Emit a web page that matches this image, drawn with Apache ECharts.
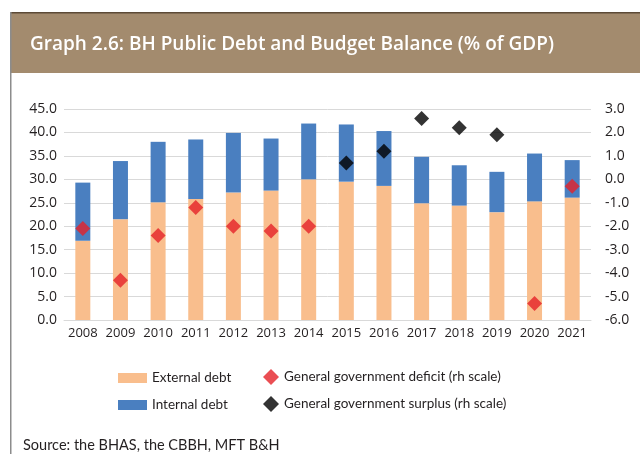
<!DOCTYPE html>
<html><head><meta charset="utf-8">
<script src="https://cdn.jsdelivr.net/npm/echarts@6/dist/echarts.min.js"></script>
<style>html,body{margin:0;padding:0;background:#fff}#c{width:640px;height:454px}</style>
</head><body><div id="c"></div>
<script>
const years = ['2008','2009','2010','2011','2012','2013','2014','2015','2016','2017','2018','2019','2020','2021'];
const externalDebt = [16.9,21.5,25.1,25.8,27.2,27.6,30.0,29.5,28.6,24.9,24.4,23.0,25.3,26.1];
const internalDebt = [12.4,12.4,12.9,12.7,12.7,11.1,11.9,12.2,11.7,9.9,8.6,8.6,10.2,8.0];
const deficit = [-2.1,-4.3,-2.4,-1.2,-2.0,-2.2,-2.0,null,null,null,null,null,-5.3,-0.3];
const surplus = [null,null,null,null,null,null,null,0.7,1.2,2.6,2.2,1.9,null,null];

const FONT = '"Open Sans", "Noto Sans", sans-serif';
const NARROW = 'Lato, sans-serif';
const TXT = '#231f20';
const chart = echarts.init(document.getElementById('c'), null, {renderer:'canvas'});
const legendBase = {orient:'horizontal', textStyle:{fontFamily:NARROW,fontSize:13.5,color:TXT}, itemGap:0, selectedMode:false};
chart.setOption({
  animation:false,
  backgroundColor:'#fff',
  graphic:[
    {type:'rect', shape:{x:11,y:13,width:629,height:60}, style:{fill:'#a38b6e'}, z:0},
    {type:'rect', shape:{x:11,y:12,width:629,height:1.5}, style:{fill:'#5c4a36'}, z:1},
    {type:'rect', shape:{x:10,y:12,width:1.5,height:442}, style:{fill:'#8c8c8c'}, z:1},
    {type:'text', left:23, top:438, style:{text:'Source: the BHAS, the CBBH, MFT B&H', fontFamily:NARROW, fontSize:14.5, fill:TXT}}
  ],
  title:{text:'Graph 2.6: BH Public Debt and Budget Balance (% of GDP)', left:25, top:30,
    textStyle:{color:'#fff', fontFamily:FONT, fontSize:19, fontWeight:600}},
  legend:[
    Object.assign({}, legendBase, {left:113, top:366, itemWidth:29, itemHeight:10, data:[{name:'External debt', icon:'rect'}]}),
    Object.assign({}, legendBase, {left:113, top:393, itemWidth:29, itemHeight:10, data:[{name:'Internal debt', icon:'rect'}]}),
    Object.assign({}, legendBase, {left:258, top:364, itemWidth:16, itemHeight:16, data:[{name:'General government deficit (rh scale)', icon:'diamond'}]}),
    Object.assign({}, legendBase, {left:258, top:391, itemWidth:16, itemHeight:16, data:[{name:'General government surplus (rh scale)', icon:'diamond'}]})
  ],
  grid:{left:64, right:49, top:109, bottom:134, containLabel:false},
  xAxis:{type:'category', data:years,
    axisLine:{show:true, lineStyle:{color:'#d9d9d9', width:1}}, axisTick:{show:false},
    axisLabel:{fontFamily:FONT, fontSize:13, color:TXT, margin:7, interval:0}},
  yAxis:[
    {type:'value', min:0, max:45, interval:5,
      axisLine:{show:false}, axisTick:{show:false},
      splitLine:{lineStyle:{color:'#d9d9d9', width:1}},
      axisLabel:{fontFamily:FONT, fontSize:14, color:TXT, margin:7, formatter:v=>v.toFixed(1)}},
    {type:'value', min:-6, max:3, interval:1, position:'right',
      axisLine:{show:false}, axisTick:{show:false}, splitLine:{show:false},
      axisLabel:{fontFamily:FONT, fontSize:14, color:TXT, margin:14, formatter:v=>v.toFixed(1)}}
  ],
  series:[
    {name:'External debt', type:'bar', stack:'d', data:externalDebt, barWidth:15, itemStyle:{color:'#f9be8d'}},
    {name:'Internal debt', type:'bar', stack:'d', data:internalDebt, barWidth:15, itemStyle:{color:'#4a7fc0'}},
    {name:'General government deficit (rh scale)', type:'scatter', yAxisIndex:1, data:deficit, symbol:'diamond', symbolSize:[15,15], itemStyle:{color:'#e52228'}, z:5},
    {name:'General government surplus (rh scale)', type:'scatter', yAxisIndex:1, data:surplus, symbol:'diamond', symbolSize:[15,15], itemStyle:{color:'#000'}, z:5}
  ]
});
</script></body></html>
